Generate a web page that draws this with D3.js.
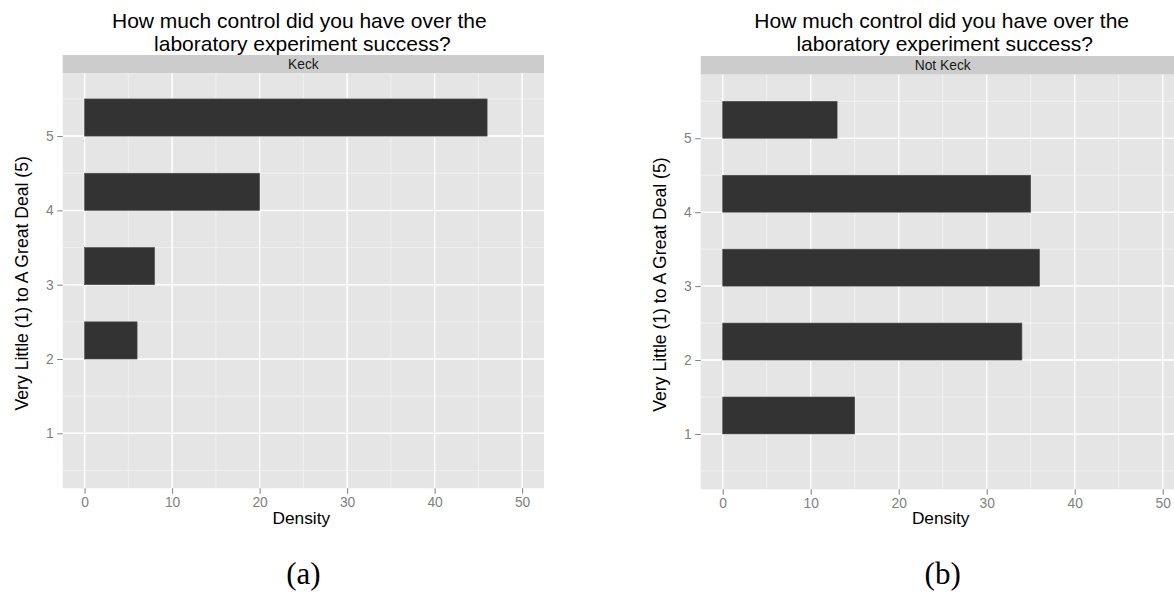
<!DOCTYPE html>
<html>
<head>
<meta charset="utf-8">
<script src="https://cdn.jsdelivr.net/npm/d3@7"></script>
<style>
  html, body { margin: 0; padding: 0; background: #ffffff; }
  svg { display: block; }
</style>
</head>
<body>
<svg id="chart" width="1174" height="594"></svg>
<script>
// ---------- data ----------
const titleLines = ["How much control did you have over the", "laboratory experiment success?"];
const yAxisTitle = "Very Little (1) to A Great Deal (5)";
const xAxisTitle = "Density";
const panelNames = ["Keck", "Not Keck"];
const panelCaptions = ["(a)", "(b)"];
const xTicks = [0, 10, 20, 30, 40, 50];
const xMinor = [5, 15, 25, 35, 45];
const yTicks = [1, 2, 3, 4, 5];
const yMinor = [0.5, 1.5, 2.5, 3.5, 4.5, 5.5];
const keckCategories = [2, 3, 4, 5];
const keckValues = [6, 8, 20, 46];
const notKeckCategories = [1, 2, 3, 4, 5];
const notKeckValues = [15, 34, 36, 35, 13];
const binWidth = 0.5;

// ---------- layout ----------
const SANS = "'Liberation Sans', Arial, Helvetica, sans-serif";
const SERIF = "'Liberation Serif', 'Times New Roman', serif";
const panels = [
  { name: panelNames[0], caption: panelCaptions[0], cats: keckCategories, vals: keckValues,
    x0: 62.7, x1: 544, stripTop: 55, top: 73.3, bottom: 488.3, yDom: [0.26, 5.845],
    titleDx: -2, yTitleX: 27.5 },
  { name: panelNames[1], caption: panelCaptions[1], cats: notKeckCategories, vals: notKeckValues,
    x0: 700.7, x1: 1184.7, stripTop: 56, top: 74.7, bottom: 489.4, yDom: [0.25, 5.86],
    titleDx: 1, yTitleX: 666 }
];

const svg = d3.select("#chart").style("font-family", SANS);

panels.forEach(p => {
  const g = svg.append("g");
  const x = d3.scaleLinear().domain([-2.5, 52.5]).range([p.x0, p.x1]);
  const y = d3.scaleLinear().domain(p.yDom).range([p.bottom, p.top]);
  const cx = (p.x0 + p.x1) / 2;

  // title
  g.append("text").attr("x", cx + p.titleDx - 2).attr("y", 28)
    .attr("text-anchor", "middle").attr("font-size", 21).attr("fill", "#000")
    .text(titleLines[0]);
  g.append("text").attr("x", cx + p.titleDx + 1).attr("y", 51)
    .attr("text-anchor", "middle").attr("font-size", 21).attr("fill", "#000")
    .text(titleLines[1]);

  // strip
  g.append("rect").attr("x", p.x0).attr("y", p.stripTop)
    .attr("width", p.x1 - p.x0).attr("height", p.top - p.stripTop)
    .attr("fill", "#CCCCCC");
  g.append("text").attr("x", cx).attr("y", (p.stripTop + p.top) / 2 + 4.8)
    .attr("text-anchor", "middle").attr("font-size", 13.8).attr("fill", "#1A1A1A")
    .text(p.name);

  // panel background
  g.append("rect").attr("x", p.x0).attr("y", p.top)
    .attr("width", p.x1 - p.x0).attr("height", p.bottom - p.top)
    .attr("fill", "#E5E5E5");

  // minor grid
  g.selectAll(".vminor").data(xMinor).join("line")
    .attr("x1", d => x(d)).attr("x2", d => x(d))
    .attr("y1", p.top).attr("y2", p.bottom)
    .attr("stroke", "#F2F2F2").attr("stroke-width", 0.8);
  g.selectAll(".hminor").data(yMinor).join("line")
    .attr("x1", p.x0).attr("x2", p.x1)
    .attr("y1", d => y(d)).attr("y2", d => y(d))
    .attr("stroke", "#F2F2F2").attr("stroke-width", 0.8);
  // major grid
  g.selectAll(".vmajor").data(xTicks).join("line")
    .attr("x1", d => x(d)).attr("x2", d => x(d))
    .attr("y1", p.top).attr("y2", p.bottom)
    .attr("stroke", "#FFFFFF").attr("stroke-width", 1.5);
  g.selectAll(".hmajor").data(yTicks).join("line")
    .attr("x1", p.x0).attr("x2", p.x1)
    .attr("y1", d => y(d)).attr("y2", d => y(d))
    .attr("stroke", "#FFFFFF").attr("stroke-width", 1.5);

  // bars
  const data = p.cats.map((c, i) => ({ c, v: p.vals[i] }));
  g.selectAll(".bar").data(data).join("rect")
    .attr("x", x(0))
    .attr("y", d => y(d.c + binWidth))
    .attr("width", d => x(d.v) - x(0))
    .attr("height", d => y(d.c) - y(d.c + binWidth))
    .attr("fill", "#333333")
    .attr("stroke", "#4D4D4D").attr("stroke-width", 0.6);

  // axes
  const xAxis = d3.axisBottom(x).tickValues(xTicks).tickFormat(d3.format("d"))
    .tickSize(5.5).tickPadding(3.5);
  const gx = g.append("g").attr("transform", `translate(0,${p.bottom})`).call(xAxis);
  gx.select(".domain").remove();
  gx.attr("font-family", null).attr("font-size", null);
  gx.selectAll(".tick line").attr("stroke", "#7F7F7F").attr("stroke-width", 1);
  gx.selectAll(".tick text").attr("fill", "#7F7F7F").style("font-size", "13.8px")
    .style("font-family", SANS);

  const yAxis = d3.axisLeft(y).tickValues(yTicks).tickFormat(d3.format("d"))
    .tickSize(5.5).tickPadding(3.5);
  const gy = g.append("g").attr("transform", `translate(${p.x0},0)`).call(yAxis);
  gy.select(".domain").remove();
  gy.selectAll(".tick line").attr("stroke", "#7F7F7F").attr("stroke-width", 1);
  gy.selectAll(".tick text").attr("fill", "#7F7F7F").style("font-size", "13.8px")
    .style("font-family", SANS);

  // axis titles
  g.append("text").attr("x", cx - 2).attr("y", 524)
    .attr("text-anchor", "middle").attr("font-size", 17.3).attr("fill", "#000")
    .text(xAxisTitle);
  const ymid = (p.top + p.bottom) / 2 + 2.5;
  g.append("text").attr("transform", `translate(${p.yTitleX},${ymid}) rotate(-90)`)
    .attr("text-anchor", "middle").attr("font-size", 17.6).attr("fill", "#000")
    .text(yAxisTitle);

  // caption
  g.append("text").attr("x", cx).attr("y", 584)
    .attr("text-anchor", "middle").attr("fill", "#000")
    .style("font-family", SERIF).style("font-size", "31px")
    .text(p.caption);
});
</script>
</body>
</html>
